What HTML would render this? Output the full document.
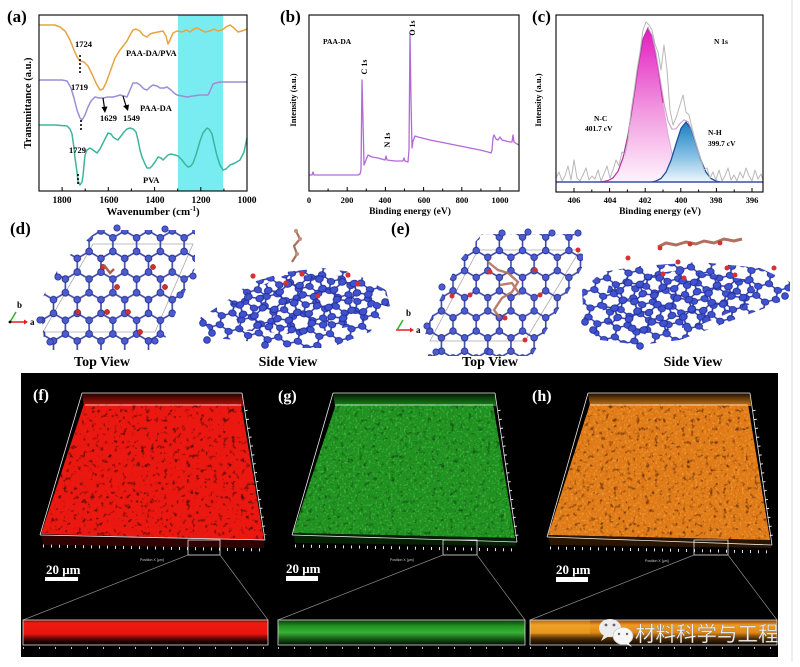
<!DOCTYPE html>
<html><head><meta charset="utf-8"><style>
html,body{margin:0;padding:0;background:#fff;}
svg{display:block;}
.t{font-family:"Liberation Serif",serif;font-weight:bold;fill:#000;}
</style></head><body>
<svg width="800" height="667" viewBox="0 0 800 667" xmlns="http://www.w3.org/2000/svg">
<defs>
<g id="hc">
<path d="M9.5 0L0 5.5M9.5 0L19 5.5M0 5.5V16.5M19 5.5V16.5M0 16.5L9.5 22M19 16.5L9.5 22M9.5 22V33" stroke="#3b48a8" stroke-width="1.3" fill="none"/>
<g fill="#4c5bd0" stroke="#232d8a" stroke-width=".7">
<circle cx="9.5" cy="0" r="2.7"/><circle cx="0" cy="5.5" r="2.7"/><circle cx="19" cy="5.5" r="2.7"/><circle cx="0" cy="16.5" r="2.7"/><circle cx="19" cy="16.5" r="2.7"/><circle cx="9.5" cy="22" r="2.7"/><circle cx="9.5" cy="33" r="2.7"/>
</g></g>
<g id="hc2">
<path d="M9.5 0L0 5.5M9.5 0L19 5.5M0 5.5V16.5M19 5.5V16.5M0 16.5L9.5 22M19 16.5L9.5 22M9.5 22V33" stroke="#2f3ea8" stroke-width="1.6" fill="none"/>
<g fill="#3f52d0" stroke="#1e2890" stroke-width=".8">
<circle cx="9.5" cy="0" r="3.6"/><circle cx="0" cy="5.5" r="3.6"/><circle cx="19" cy="5.5" r="3.6"/><circle cx="0" cy="16.5" r="3.6"/><circle cx="19" cy="16.5" r="3.6"/><circle cx="9.5" cy="22" r="3.6"/><circle cx="9.5" cy="33" r="3.6"/>
</g></g>
<pattern id="p1" width="19" height="33" patternUnits="userSpaceOnUse" patternTransform="translate(6,4) scale(1.25)"><use href="#hc"/></pattern>
<pattern id="p2" width="19" height="33" patternUnits="userSpaceOnUse" patternTransform="translate(2,6) rotate(12) scale(1.05 .85)"><use href="#hc2"/></pattern>
<pattern id="p3" width="19" height="33" patternUnits="userSpaceOnUse" patternTransform="translate(9,0) rotate(-18) scale(1.1 .9)"><use href="#hc2"/></pattern>
<pattern id="p4" width="19" height="33" patternUnits="userSpaceOnUse" patternTransform="translate(1,9) scale(1.22)"><use href="#hc"/></pattern>
<filter id="dk" x="0" y="0" width="1" height="1">
<feTurbulence type="fractalNoise" baseFrequency="0.22" numOctaves="3" seed="4" result="n"/>
<feColorMatrix in="n" type="matrix" values="0 0 0 0 0 0 0 0 0 0 0 0 0 0 0 -2.6 0 0 0 1.08" result="m"/>
<feComposite in="SourceGraphic" in2="m" operator="in"/>
</filter>
<filter id="lt" x="0" y="0" width="1" height="1">
<feTurbulence type="fractalNoise" baseFrequency="0.45" numOctaves="2" seed="9" result="n"/>
<feColorMatrix in="n" type="matrix" values="0 0 0 0 0 0 0 0 0 0 0 0 0 0 0 2.4 0 0 0 -1.25" result="m"/>
<feComposite in="SourceGraphic" in2="m" operator="in"/>
</filter>
<linearGradient id="gpk" x1="0" y1="0" x2="0" y2="1"><stop offset="0" stop-color="#e21cc0"/><stop offset=".55" stop-color="#f29be0"/><stop offset="1" stop-color="#fff4fc"/></linearGradient>
<linearGradient id="gbl" x1="0" y1="0" x2="0" y2="1"><stop offset="0" stop-color="#1a7fc2"/><stop offset=".6" stop-color="#8cc4e6"/><stop offset="1" stop-color="#eef7fc"/></linearGradient>
<linearGradient id="sf" x1="0" y1="0" x2="0" y2="1"><stop offset="0" stop-color="#7a0805"/><stop offset=".12" stop-color="#f01a10"/><stop offset=".55" stop-color="#e81510"/><stop offset=".72" stop-color="#700806"/><stop offset=".88" stop-color="#1a0000"/><stop offset="1" stop-color="#000"/></linearGradient>
<linearGradient id="sg" x1="0" y1="0" x2="0" y2="1"><stop offset="0" stop-color="#0c3a0c"/><stop offset=".25" stop-color="#229422"/><stop offset=".5" stop-color="#36b236"/><stop offset=".72" stop-color="#1b641b"/><stop offset="1" stop-color="#020a02"/></linearGradient>
<linearGradient id="sh" x1="0" y1="0" x2="0" y2="1"><stop offset="0" stop-color="#8a4008"/><stop offset=".2" stop-color="#f09a20"/><stop offset=".5" stop-color="#e08a18"/><stop offset=".75" stop-color="#4a2a06"/><stop offset="1" stop-color="#0a0500"/></linearGradient>
<linearGradient id="tf" x1="0" y1="0" x2="0" y2="1"><stop offset="0" stop-color="#200202"/><stop offset="1" stop-color="#c01208"/></linearGradient>
<linearGradient id="tg" x1="0" y1="0" x2="0" y2="1"><stop offset="0" stop-color="#021402"/><stop offset="1" stop-color="#1a8a1a"/></linearGradient>
<linearGradient id="th" x1="0" y1="0" x2="0" y2="1"><stop offset="0" stop-color="#1a0e02"/><stop offset="1" stop-color="#d07a18"/></linearGradient>
</defs>

<rect width="800" height="667" fill="#fff"/>
<line x1="792" y1="0" x2="792" y2="662" stroke="#e2e2e2" stroke-width="1"/>

<!-- ===== (a) ===== -->
<text class="t" x="7" y="22" font-size="17">(a)</text>
<rect x="178" y="15" width="45" height="176" fill="#78ecf0"/>
<polyline fill="none" stroke="#e9a33c" stroke-width="1.5" stroke-linejoin="round" points="39,25 55,25 60,27 65,31 70,40 74,50 77,57 80,61 84,62 88,66 92,74 96,83 100,90 103,89 106,83 110,72 115,58 120,50 124,45 127,41 130,35 133,30 136,29 140,31 143,35 147,37 150,34 153,33 158,32 163,31 166,36 168,44 170,40 173,33 177,31 182,32 186,30 190,32 194,29 197,28 201,30 205,32 210,31 214,29 218,31 222,30 226,27 230,25 234,28 238,32 242,31 247,29"/>
<polyline fill="none" stroke="#9b8ed6" stroke-width="1.5" stroke-linejoin="round" points="39,80 55,80 62,80 67,81 71,88 74,98 77,110 80,118 82,120 85,115 88,107 91,101 95,97 99,98 103,98 108,97 113,97 117,96 120,95 124,96 127,97 130,90 133,83 137,83 140,85 144,89 147,90 150,87 153,85 157,86 160,88 164,88 167,87 171,90 174,93 177,95 182,96 187,97 193,96 200,95 205,95 208,95 210,91 213,84 216,83 220,82 233,82 247,82"/>
<polyline fill="none" stroke="#3db59e" stroke-width="1.5" stroke-linejoin="round" points="39,125 55,125 67,126 70,129 72,134 74,148 75,158 77,172 78,181 80,185 82,182 83,176 84,165 85,155 87,150 90,148 93,150 97,153 100,149 103,143 106,137 108,133 111,134 113,137 116,139 118,140 121,136 124,132 127,129 130,128 133,129 136,132 138,140 140,150 142,157 145,164 147,168 150,168 152,166 155,162 158,157 161,158 163,160 166,157 168,155 171,154 175,155 178,156 182,160 185,164 188,167 191,166 193,163 196,155 200,141 203,133 207,128 209,129 212,134 214,143 217,156 220,165 223,170 226,169 230,165 235,163 240,160 244,152 247,138"/>
<rect x="39" y="15" width="208" height="176" fill="none" stroke="#000" stroke-width="1.1"/>
<g stroke="#000" stroke-width="1">
<path d="M62.1 191v-4M108.3 191v-4M154.6 191v-4M200.8 191v-4M85.2 191v-2.5M131.4 191v-2.5M177.7 191v-2.5M223.9 191v-2.5"/>
</g>
<g stroke="#000" stroke-width="1.6" stroke-dasharray="2 2">
<line x1="80" y1="55" x2="80" y2="73"/><line x1="81" y1="120" x2="81" y2="131"/><line x1="78" y1="174" x2="78" y2="186"/>
</g>
<g stroke="#000" stroke-width="1.2"><line x1="103" y1="98" x2="104.5" y2="108"/><line x1="123" y1="96" x2="126" y2="106"/></g>
<polygon points="101.5,107 107.5,106.5 105,113" fill="#000"/>
<polygon points="123,106 129,104.5 128,111" fill="#000"/>
<g class="t" font-size="8.5">
<text x="75" y="47">1724</text>
<text x="126" y="56">PAA-DA/PVA</text>
<text x="71" y="90">1719</text>
<text x="100" y="121">1629</text>
<text x="123" y="121">1549</text>
<text x="140" y="111">PAA-DA</text>
<text x="69" y="153">1729</text>
<text x="143" y="183">PVA</text>
</g>
<g class="t" font-size="9.5" text-anchor="middle">
<text x="62" y="203">1800</text><text x="109" y="203">1600</text><text x="155" y="203">1400</text><text x="201" y="203">1200</text><text x="247" y="203">1000</text>
</g>
<text class="t" x="153" y="215" font-size="11" text-anchor="middle">Wavenumber (cm<tspan font-size="7" dy="-4">-1</tspan><tspan dy="4">)</tspan></text>
<text class="t" font-size="10.5" text-anchor="middle" transform="translate(31,103) rotate(-90)">Transmittance (a.u.)</text>

<!-- ===== (b) ===== -->
<text class="t" x="280" y="22" font-size="17">(b)</text>
<polyline fill="none" stroke="#b36ad6" stroke-width="1.3" stroke-linejoin="round" points="309,175 312,175 313,172 314,175 330,175 345,175 358,175 360,174 361,170 362,80 363,120 364,165 366,160 368,155 372,157 378,158 385,160 386,156 387,160 395,161 403,161 404,158 405,161 408,162 409,150 410,33 411,100 412,148 413,141 415,136 418,137 422,138 430,140 440,142 450,144 460,146 470,148 480,150 488,152 491,153 492,150 493,138 494,135 496,139 498,140 500,137 502,140 506,141 510,142 512,142 513,135 514,142 517,144 519,145"/>
<rect x="309" y="15" width="210" height="176" fill="none" stroke="#000" stroke-width="1.1"/>
<path stroke="#000" stroke-width="1" d="M347.2 191v-4M385.4 191v-4M423.6 191v-4M461.8 191v-4M500 191v-4M328.1 191v-2.5M366.3 191v-2.5M404.5 191v-2.5M442.7 191v-2.5M480.9 191v-2.5"/>
<g class="t" font-size="8.5" text-anchor="middle">
<text x="309" y="203">0</text><text x="347" y="203">200</text><text x="385" y="203">400</text><text x="424" y="203">600</text><text x="462" y="203">800</text><text x="500" y="203">1000</text>
</g>
<text class="t" x="410" y="214" font-size="9.5" text-anchor="middle">Binding energy (eV)</text>
<text class="t" font-size="8.5" text-anchor="middle" transform="translate(296,100) rotate(-90)">Intensity (a.u.)</text>
<text class="t" x="323" y="44" font-size="7.5">PAA-DA</text>
<text class="t" font-size="8" text-anchor="middle" transform="translate(367,67) rotate(-90)">C 1s</text>
<text class="t" font-size="8" text-anchor="middle" transform="translate(390,140) rotate(-90)">N 1s</text>
<text class="t" font-size="8" text-anchor="middle" transform="translate(415,28) rotate(-90)">O 1s</text>

<!-- ===== (c) ===== -->
<text class="t" x="532" y="22" font-size="17">(c)</text>
<polygon fill="url(#gpk)" points="600,182 603,181.6 608,180.6 613,177.9 618,171.3 623,157.8 628,134.9 633,102.8 638,67.4 643,38.9 648,28 653,38.9 658,67.4 663,102.8 668,134.9 673,157.8 678,171.3 683,177.9 688,180.6 693,181.6 696,182"/>
<polyline fill="none" stroke="#b8309e" stroke-width="1.2" points="600,182 603,181.6 608,180.6 613,177.9 618,171.3 623,157.8 628,134.9 633,102.8 638,67.4 643,38.9 648,28 653,38.9 658,67.4 663,102.8"/>
<polyline fill="none" stroke="#e0a8d8" stroke-width="1" points="663,102.8 668,134.9 673,157.8 678,171.3 683,177.9 688,180.6 693,181.6 696,182"/>
<polygon fill="url(#gbl)" points="652,182 656,181 661,178.5 666,172.2 671,160.4 676,143.9 681,128.4 686,122 691,128.4 696,143.9 701,160.4 706,172.2 711,178.5 716,181 720,182"/>
<polyline fill="none" stroke="#1f4f98" stroke-width="1.3" points="652,182 656,181 661,178.5 666,172.2 671,160.4 676,143.9 681,128.4 686,122 691,128.4 696,143.9 701,160.4 706,172.2 711,178.5 716,181 720,182"/>
<polyline fill="none" stroke="#c898c8" stroke-width="1" points="648,28 652,35 656,53.5 660,78.6 664,103.1 668,121.1 672,129.2 676,128.8 680,123.6 684,119.8 688,121.7 692,130.5 696,143.7 700,157.3"/>
<polyline fill="none" stroke="#b8b8b8" stroke-width="1" stroke-linejoin="round" points="556,178 559,172 562,181 565,176 568,166 571,180 574,160 577,178 580,181 583,175 586,168 589,180 592,176 595,179 598,170 601,181 604,174 607,166 610,178 613,170 616,160 619,166 622,152 625,155 628,140 631,112 634,92 637,70 640,52 643,30 646,22 649,25 652,30 655,44 658,52 661,70 664,45 667,70 670,110 673,125 676,118 680,105 683,95 686,112 689,115 692,128 695,140 698,150 701,160 704,170 707,168 710,178 713,172 716,180 719,170 722,181 725,176 728,168 731,180 734,175 737,181 740,172 743,178 746,168 749,176 752,181 755,170 758,179 761,174 763,180"/>
<line x1="556" y1="182" x2="763" y2="182" stroke="#3a4fa8" stroke-width="1.6"/>
<rect x="556" y="15" width="207" height="177" fill="none" stroke="#000" stroke-width="1.1"/>
<path stroke="#000" stroke-width="1" d="M574 192v-4M609.6 192v-4M645.2 192v-4M680.8 192v-4M716.4 192v-4M752 192v-4M591.8 192v-2.5M627.4 192v-2.5M663 192v-2.5M698.6 192v-2.5M734.2 192v-2.5"/>
<g class="t" font-size="8.5" text-anchor="middle">
<text x="574" y="203">406</text><text x="610" y="203">404</text><text x="645" y="203">402</text><text x="681" y="203">400</text><text x="716" y="203">398</text><text x="752" y="203">396</text>
</g>
<text class="t" x="660" y="214" font-size="9.5" text-anchor="middle">Binding energy (eV)</text>
<text class="t" font-size="8.5" text-anchor="middle" transform="translate(541,100) rotate(-90)">Intensity (a.u.)</text>
<g class="t" font-size="7.5">
<text x="714" y="44">N 1s</text>
<text x="594" y="121">N-C</text>
<text x="585" y="131">401.7 cV</text>
<text x="708" y="135">N-H</text>
<text x="708" y="146">399.7 cV</text>
</g>

<!-- ===== (d) ===== -->
<text class="t" x="10" y="234" font-size="17">(d)</text>
<polygon points="93,244 193,244 155,332 43,332" fill="none" stroke="#aaa" stroke-width=".8"/>
<polygon points="98,230 195,230 195,268 160,350 45,350 40,302 62,262" fill="url(#p1)"/>
<g fill="#4c5bd0" stroke="#232d8a" stroke-width=".7">
<circle cx="117" cy="228" r="3.2"/><circle cx="165" cy="229" r="3.2"/><circle cx="58" cy="277" r="3.2"/><circle cx="40" cy="320" r="3.2"/><circle cx="50" cy="342" r="3.2"/><circle cx="193" cy="276" r="3.2"/><circle cx="180" cy="295" r="3.2"/><circle cx="155" cy="341" r="3.2"/>
</g>
<g fill="#d03030" stroke="#801010" stroke-width=".5">
<circle cx="103" cy="267" r="2.6"/><circle cx="117" cy="287" r="2.6"/><circle cx="153" cy="267" r="2.6"/><circle cx="165" cy="287" r="2.6"/><circle cx="78" cy="312" r="2.6"/><circle cx="107" cy="312" r="2.6"/><circle cx="128" cy="312" r="2.6"/><circle cx="140" cy="332" r="2.6"/>
</g>
<path d="M104 265l6 8l4 -4" stroke="#a86050" stroke-width="2.5" fill="none"/>
<polygon points="200,318 228,300 250,283 285,272 322,268 352,272 386,290 390,306 370,332 330,348 290,348 255,342 215,338" fill="url(#p2)"/>
<polygon points="230,300 285,275 350,276 380,295 360,325 300,335 240,330" fill="url(#p3)"/>
<g fill="#3f52d0" stroke="#1e2890" stroke-width=".8"><circle cx="203" cy="323" r="3.4"/><circle cx="212" cy="333" r="3.4"/><circle cx="207" cy="340" r="3.4"/><circle cx="265" cy="345" r="3.4"/><circle cx="385" cy="302" r="3.4"/></g>
<g fill="#d83030"><circle cx="253" cy="276" r="2.6"/><circle cx="286" cy="283" r="2.6"/><circle cx="302" cy="274" r="2.6"/><circle cx="348" cy="275" r="2.6"/><circle cx="358" cy="284" r="2.6"/><circle cx="318" cy="296" r="2.4"/></g>
<path d="M292 262l5 -8l-3 -8l6 -7l-4 -8" stroke="#a87058" stroke-width="2.2" fill="none"/>
<g fill="#c09080"><circle cx="297" cy="254" r="2"/><circle cx="300" cy="239" r="2"/><circle cx="296" cy="231" r="2"/></g>
<line x1="10" y1="322" x2="24" y2="322" stroke="#e02020" stroke-width="1.5"/><polygon points="24,319.5 28,322 24,324.5" fill="#e02020"/>
<line x1="10" y1="322" x2="16" y2="312" stroke="#30b030" stroke-width="1.5"/>
<circle cx="10" cy="322" r="1.4" fill="#000"/>
<text class="t" x="17" y="308" font-size="9">b</text><text class="t" x="30" y="325" font-size="9">a</text>
<text class="t" x="102" y="366" font-size="14" text-anchor="middle">Top View</text>
<text class="t" x="288" y="366" font-size="14" text-anchor="middle">Side View</text>

<!-- ===== (e) ===== -->
<text class="t" x="391" y="234" font-size="17">(e)</text>
<polygon points="478,250 580,250 525,341 430,341" fill="none" stroke="#aaa" stroke-width=".8"/>
<polygon points="482,234 583,234 583,266 532,356 428,356 425,330 458,262" fill="url(#p4)"/>
<g fill="#4c5bd0" stroke="#232d8a" stroke-width=".7">
<circle cx="502" cy="233" r="3.2"/><circle cx="528" cy="232" r="3.2"/><circle cx="552" cy="233" r="3.2"/><circle cx="578" cy="233" r="3.2"/><circle cx="442" cy="287" r="3.2"/><circle cx="427" cy="326" r="3.2"/><circle cx="436" cy="352" r="3.2"/><circle cx="490" cy="352" r="3.2"/>
</g>
<path d="M488 262l10 8l10 3l10 9l-6 10l-10 6l-8 12l6 8M500 285l12 -2l8 12" stroke="#b07060" stroke-width="2.4" fill="none" opacity=".9"/>
<g fill="#d83030"><circle cx="490" cy="272" r="2.5"/><circle cx="535" cy="270" r="2.5"/><circle cx="470" cy="295" r="2.5"/><circle cx="505" cy="318" r="2.5"/><circle cx="540" cy="295" r="2.5"/><circle cx="452" cy="296" r="2.5"/><circle cx="525" cy="340" r="2.5"/><circle cx="578" cy="250" r="2.5"/></g>
<polygon points="582,290 602,272 640,266 700,262 760,268 790,282 790,298 760,310 720,325 680,340 640,345 600,340 584,325" fill="url(#p2)"/>
<polygon points="610,280 680,270 750,280 760,300 700,325 640,335 600,320" fill="url(#p3)"/>
<g fill="#3f52d0" stroke="#1e2890" stroke-width=".8"><circle cx="585" cy="322" r="3.4"/><circle cx="593" cy="330" r="3.4"/><circle cx="640" cy="346" r="3.4"/><circle cx="785" cy="296" r="3.4"/></g>
<g fill="#d83030"><circle cx="628" cy="258" r="2.5"/><circle cx="663" cy="274" r="2.5"/><circle cx="678" cy="262" r="2.5"/><circle cx="684" cy="278" r="2.5"/><circle cx="727" cy="268" r="2.5"/><circle cx="735" cy="275" r="2.5"/><circle cx="774" cy="268" r="2.5"/></g>
<path d="M658 247l8 -4l10 2l10 -3l10 2l8 -3l10 2l10 -4l10 2l8 -2" stroke="#b07060" stroke-width="3" fill="none"/>
<g fill="#d83030"><circle cx="660" cy="248" r="2.4"/><circle cx="690" cy="244" r="2.4"/><circle cx="720" cy="243" r="2.4"/></g>
<line x1="396" y1="330" x2="410" y2="330" stroke="#e02020" stroke-width="1.5"/><polygon points="410,327.5 414,330 410,332.5" fill="#e02020"/>
<line x1="397" y1="330" x2="403" y2="320" stroke="#30b030" stroke-width="1.5"/>
<text class="t" x="406" y="316" font-size="9">b</text><text class="t" x="416" y="333" font-size="9">a</text>
<text class="t" x="490" y="366" font-size="14" text-anchor="middle">Top View</text>
<text class="t" x="693" y="366" font-size="14" text-anchor="middle">Side View</text>

<!-- ===== bottom black panel ===== -->
<rect x="21" y="373" width="757" height="284" fill="#000"/>

<!-- f -->
<polygon points="82,393 242,393 243,406 84,406" fill="url(#tf)"/>
<polygon points="84,404 241,404 264,540 41,534" fill="#ea1810"/>
<polygon points="84,404 241,404 264,540 41,534" fill="#000" filter="url(#dk)"/>
<polygon points="41,534 264,540 264,548 43,545" fill="#300303"/>
<g fill="none" stroke="#e8e8e8" stroke-width=".8">
<line x1="82" y1="393" x2="242" y2="393"/><line x1="85" y1="405" x2="241" y2="405"/><line x1="82" y1="393" x2="40" y2="535"/><line x1="242" y1="393" x2="265" y2="540"/><line x1="40" y1="535" x2="265" y2="540"/>
<line x1="43" y1="546" x2="264" y2="550" stroke-dasharray="1 7" stroke-width="3"/>
<line x1="246" y1="410" x2="265" y2="535" stroke-dasharray="1 8" stroke-width="3"/>
<rect x="188" y="540" width="32" height="15"/>
</g>
<g stroke="#8a8a8a" stroke-width=".7"><line x1="188" y1="555" x2="23" y2="620"/><line x1="220" y1="555" x2="268" y2="620"/></g>
<text x="33" y="400" font-size="16" font-family="Liberation Serif,serif" font-weight="bold" fill="#fff">(f)</text>
<text x="46" y="574" font-size="13" font-family="Liberation Serif,serif" font-weight="bold" fill="#fff">20 μm</text>
<rect x="45" y="577" width="33" height="4" fill="#fff"/>
<text x="140" y="561" font-size="3.5" fill="#ccc" font-family="Liberation Sans,sans-serif">Position X [µm]</text>
<rect x="23" y="620" width="245" height="25" fill="url(#sf)"/>
<rect x="23" y="620" width="245" height="25" fill="none" stroke="#ddd" stroke-width=".8"/>
<line x1="23" y1="648" x2="268" y2="648" stroke="#bbb" stroke-width="2" stroke-dasharray="1 15"/>

<!-- g -->
<polygon points="333,393 495,393 496,406 335,406" fill="url(#tg)"/>
<polygon points="336,404 493,404 515,538 293,533" fill="#209020"/>
<polygon points="336,404 493,404 515,538 293,533" fill="#4ccc4c" filter="url(#lt)"/>
<polygon points="336,404 493,404 515,538 293,533" fill="#000" filter="url(#dk)" opacity=".6"/>
<polygon points="293,533 515,538 516,546 295,543" fill="#052005"/>
<g fill="none" stroke="#e8e8e8" stroke-width=".8">
<line x1="333" y1="393" x2="495" y2="393"/><line x1="335" y1="405" x2="493" y2="405"/><line x1="333" y1="393" x2="292" y2="535"/><line x1="495" y1="393" x2="517" y2="542"/><line x1="292" y1="535" x2="517" y2="542"/>
<line x1="295" y1="546" x2="516" y2="550" stroke-dasharray="1 7" stroke-width="3"/>
<line x1="499" y1="410" x2="517" y2="537" stroke-dasharray="1 8" stroke-width="3"/>
<rect x="443" y="540" width="34" height="15"/>
</g>
<g stroke="#8a8a8a" stroke-width=".7"><line x1="443" y1="555" x2="278" y2="620"/><line x1="477" y1="555" x2="525" y2="620"/></g>
<text x="278" y="401" font-size="16" font-family="Liberation Serif,serif" font-weight="bold" fill="#fff">(g)</text>
<text x="286" y="573" font-size="13" font-family="Liberation Serif,serif" font-weight="bold" fill="#fff">20 μm</text>
<rect x="286" y="576" width="32" height="5" fill="#fff"/>
<text x="390" y="561" font-size="3.5" fill="#ccc" font-family="Liberation Sans,sans-serif">Position X [µm]</text>
<rect x="278" y="620" width="247" height="25" fill="url(#sg)"/>
<rect x="278" y="620" width="247" height="25" fill="none" stroke="#ddd" stroke-width=".8"/>
<line x1="278" y1="648" x2="525" y2="648" stroke="#bbb" stroke-width="2" stroke-dasharray="1 15"/>

<!-- h -->
<polygon points="588,393 750,393 751,406 590,406" fill="url(#th)"/>
<polygon points="590,404 748,404 770,540 548,535" fill="#e07a18"/>
<polygon points="590,404 748,404 770,540 548,535" fill="#f4b040" filter="url(#lt)"/>
<polygon points="590,404 748,404 770,540 548,535" fill="#200800" filter="url(#dk)" opacity=".85"/>
<polygon points="548,535 770,540 771,548 550,545" fill="#2a1502"/>
<g fill="none" stroke="#e8e8e8" stroke-width=".8">
<line x1="588" y1="393" x2="750" y2="393"/><line x1="590" y1="405" x2="748" y2="405"/><line x1="588" y1="393" x2="547" y2="537"/><line x1="750" y1="393" x2="772" y2="545"/><line x1="547" y1="537" x2="772" y2="545"/>
<line x1="550" y1="548" x2="771" y2="552" stroke-dasharray="1 7" stroke-width="3"/>
<line x1="754" y1="410" x2="772" y2="540" stroke-dasharray="1 8" stroke-width="3"/>
<rect x="694" y="540" width="34" height="15"/>
</g>
<g stroke="#8a8a8a" stroke-width=".7"><line x1="694" y1="555" x2="530" y2="620"/><line x1="728" y1="555" x2="777" y2="620"/></g>
<text x="532" y="401" font-size="16" font-family="Liberation Serif,serif" font-weight="bold" fill="#fff">(h)</text>
<text x="556" y="574" font-size="13" font-family="Liberation Serif,serif" font-weight="bold" fill="#fff">20 μm</text>
<rect x="556" y="577" width="32" height="5" fill="#fff"/>
<text x="645" y="562" font-size="3.5" fill="#ccc" font-family="Liberation Sans,sans-serif">Position X [µm]</text>
<rect x="530" y="620" width="247" height="25" fill="url(#sh)"/>
<rect x="530" y="620" width="60" height="14" fill="#f0b030" opacity=".35"/>
<rect x="530" y="620" width="247" height="25" fill="none" stroke="#ddd" stroke-width=".8"/>
<line x1="530" y1="648" x2="777" y2="648" stroke="#bbb" stroke-width="2" stroke-dasharray="1 15"/>

<!-- watermark -->
<ellipse cx="610" cy="628" rx="11" ry="9" fill="#ececec"/>
<polygon points="604,635 601,641 609,636" fill="#ececec"/>
<ellipse cx="623" cy="636" rx="10" ry="8.5" fill="#f6f6f6" stroke="#bbb" stroke-width=".6"/>
<polygon points="628,642 632,647 624,643" fill="#f6f6f6"/>
<g fill="#666"><circle cx="606" cy="625" r="1.4"/><circle cx="614" cy="625" r="1.4"/><circle cx="619" cy="634" r="1.2"/><circle cx="627" cy="634" r="1.2"/></g>
<text x="635" y="641" font-size="20.5" fill="#f2f2f2" font-family="Liberation Sans,Noto Sans CJK SC,sans-serif" stroke="#777" stroke-width=".3">材料科学与工程</text>
</svg>
</body></html>
